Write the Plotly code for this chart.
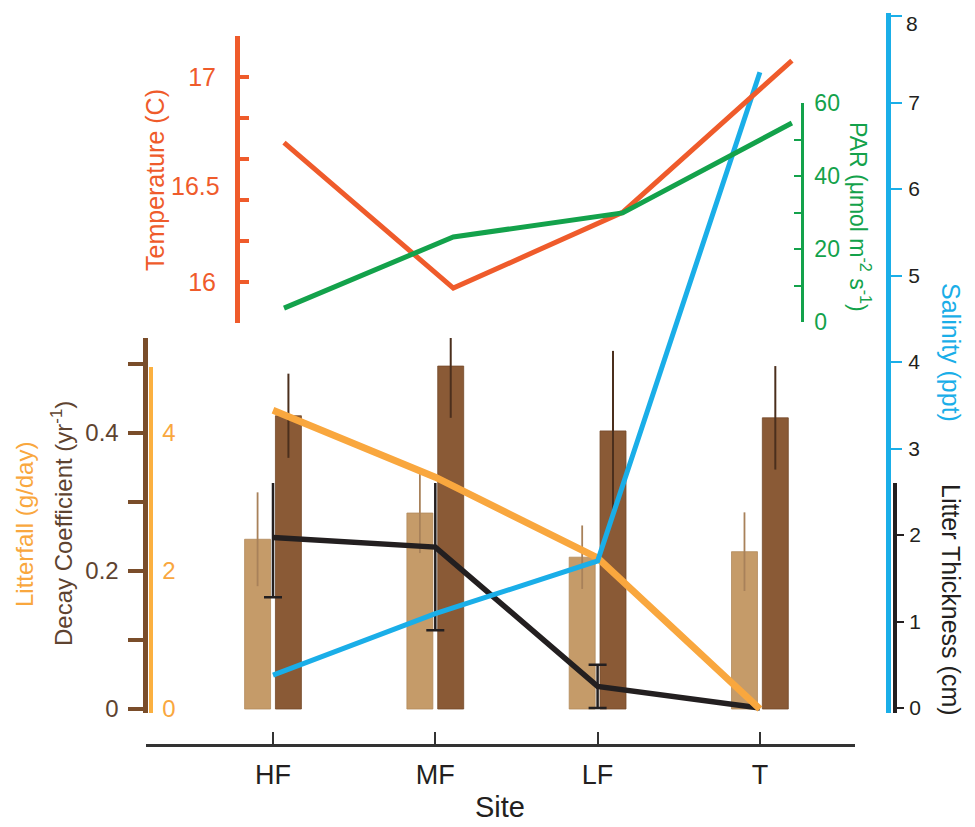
import plotly.graph_objects as go

W, H = 975, 827

# ---------------- data ----------------
sites = ["HF", "MF", "LF", "T"]
site_pos = [0, 1, 2, 3]

decay_dark = [0.425, 0.497, 0.403, 0.422]
decay_dark_err = [0.061, 0.075, 0.116, 0.075]
decay_light = [0.246, 0.284, 0.220, 0.228]
decay_light_err = [0.068, 0.058, 0.046, 0.057]

litterfall = [4.33, 3.36, 2.19, 0.0]
litter_thickness = [1.97, 1.86, 0.25, 0.0]
litter_thickness_err = [0.69, 0.96, 0.25]
salinity = [0.38, 1.09, 1.70, 7.35]
temperature = [16.68, 15.97, 16.34, 17.08]
par = [3.8, 23.3, 29.9, 54.5]

decay_ticks = [0, 0.1, 0.2, 0.3, 0.4, 0.5]
decay_ticktext = ["0", "", "0.2", "", "0.4", ""]
litterfall_ticks = [0, 2, 4]
temp_ticks = [15.8, 16.0, 16.2, 16.4, 16.6, 16.8, 17.0, 17.2]
temp_ticktext = ["", "16", "", "", "", "", "17", ""]
par_ticks = [0, 10, 20, 30, 40, 50, 60]
par_ticktext = ["0", "", "20", "", "40", "", "60"]
salinity_ticks = [3, 4, 5, 6, 7, 8]
salinity_ticktext = ["3", "4", "5", "6", "7", ""]   # "8" is set just below its tick
thickness_ticks = [0, 1, 2]

# ---------------- colours ----------------
C_RED = "#EF5B2B"
C_GREEN = "#13A24B"
C_BLUE = "#1AAEE8"
C_ORANGE = "#F9A73E"
C_BROWN_AX = "#7A4D2A"
C_BROWN_TXT = "#5E4330"
C_DARK_BAR = "#8A5A36"
C_LIGHT_BAR = "#C59B69"
C_BLACK = "#231F20"
FONT = "Liberation Sans, Arial, Helvetica, sans-serif"

# ---------------- layout helpers (screen pixel -> paper) ----------------
# the page body adds an 8px margin round the figure
OFF = 8.0


def px(xp):
    return (xp - OFF) / W


def pyy(yp):
    return 1 - (yp - OFF) / H


def ydom(top_px, bottom_px):
    return [pyy(bottom_px), pyy(top_px)]


def yrange(zero_px, per_unit, top_px, bottom_px, zero_val=0.0):
    return [zero_val - (bottom_px - zero_px) / per_unit,
            zero_val + (zero_px - top_px) / per_unit]


def xrange_(zero_px, per_unit, left_px, right_px):
    return [-(zero_px - left_px) / per_unit, (right_px - zero_px) / per_unit]


fig = go.Figure()

# bars (decay coefficient)
fig.add_trace(go.Bar(
    x=site_pos, y=decay_light, xaxis="x", yaxis="y",
    width=0.16, offset=-0.175,
    marker=dict(color=C_LIGHT_BAR, line=dict(color="#B38A5C", width=0.8)),
    error_y=dict(type="data", array=decay_light_err, color="#A8815A",
                 thickness=1.8, width=0),
    hoverinfo="skip", showlegend=False))
fig.add_trace(go.Bar(
    x=site_pos, y=decay_dark, xaxis="x", yaxis="y",
    width=0.16, offset=0.015,
    marker=dict(color=C_DARK_BAR, line=dict(color="#74492A", width=0.8)),
    error_y=dict(type="data", array=decay_dark_err, color="#4B2F1D",
                 thickness=2, width=0),
    hoverinfo="skip", showlegend=False))

# litter thickness (black)
fig.add_trace(go.Scatter(
    x=site_pos, y=litter_thickness, xaxis="x", yaxis="y2", mode="lines",
    line=dict(color=C_BLACK, width=5.5),
    error_y=dict(type="data", array=litter_thickness_err, color=C_BLACK,
                 thickness=2.5, width=9),
    hoverinfo="skip", showlegend=False))

# litterfall (orange)
fig.add_trace(go.Scatter(
    x=site_pos, y=litterfall, xaxis="x", yaxis="y3", mode="lines",
    line=dict(color=C_ORANGE, width=7), hoverinfo="skip", showlegend=False))

# salinity (blue)
fig.add_trace(go.Scatter(
    x=site_pos, y=salinity, xaxis="x", yaxis="y4", mode="lines",
    line=dict(color=C_BLUE, width=5), hoverinfo="skip", showlegend=False))

# temperature (red) and PAR (green)
fig.add_trace(go.Scatter(
    x=site_pos, y=temperature, xaxis="x2", yaxis="y5", mode="lines",
    line=dict(color=C_RED, width=5), hoverinfo="skip", showlegend=False))
fig.add_trace(go.Scatter(
    x=site_pos, y=par, xaxis="x2", yaxis="y6", mode="lines",
    line=dict(color=C_GREEN, width=5), hoverinfo="skip", showlegend=False))

common = dict(showgrid=False, zeroline=False, fixedrange=True,
              automargin=False, ticklabeloverflow="allow")

fig.update_layout(
    template="none",
    width=W, height=H, autosize=False,
    margin=dict(l=0, r=0, t=0, b=0, pad=0),
    paper_bgcolor="white", plot_bgcolor="rgba(0,0,0,0)",
    barmode="overlay",
    font=dict(family=FONT, color=C_BLACK),
    showlegend=False,
    xaxis=dict(
        **common, domain=[px(146), px(855)], anchor="free",
        position=pyy(745),
        range=xrange_(273, 162.3, 146, 855),
        tickmode="array", tickvals=site_pos, ticktext=sites,
        ticks="inside", ticklen=12, tickwidth=2, tickcolor="#333333",
        showline=True, linewidth=2.5, linecolor="#333333",
        tickfont=dict(size=27, color=C_BLACK), ticklabelstandoff=5),
    xaxis2=dict(
        **common, domain=[px(146), px(855)], anchor="free", position=0.99,
        range=xrange_(284, 169.3, 146, 855), visible=False),
    # decay coefficient (brown)
    yaxis=dict(
        **common, domain=ydom(338, 713), anchor="free", position=px(144.5),
        side="left", range=yrange(709, 690, 338, 713),
        tickmode="array", tickvals=decay_ticks, ticktext=decay_ticktext,
        ticks="outside", ticklen=15, tickwidth=4, tickcolor=C_BROWN_AX,
        showline=True, linewidth=5, linecolor=C_BROWN_AX,
        tickfont=dict(size=24, color=C_BROWN_TXT), ticklabelstandoff=4),
    # litter thickness (black)
    yaxis2=dict(
        **common, domain=ydom(483, 713), anchor="free", position=px(895),
        side="right", range=yrange(708, 86.5, 483, 713),
        tickmode="array", tickvals=thickness_ticks,
        ticks="outside", ticklen=7, tickwidth=1.5, tickcolor=C_BLACK,
        showline=True, linewidth=4, linecolor=C_BLACK,
        tickfont=dict(size=21, color=C_BLACK), ticklabelstandoff=1),
    # litterfall (orange)
    yaxis3=dict(
        **common, domain=ydom(367, 713), anchor="free", position=px(150.5),
        side="right", range=yrange(709, 69, 367, 713),
        tickmode="array", tickvals=litterfall_ticks,
        ticks="", showline=True, linewidth=4, linecolor="#FBB040",
        tickfont=dict(size=24, color=C_ORANGE), ticklabelstandoff=5),
    # salinity (blue)
    yaxis4=dict(
        **common, domain=ydom(13, 713), anchor="free", position=px(888),
        side="right", range=yrange(708, 86.5, 13, 713),
        tickmode="array", tickvals=salinity_ticks, ticktext=salinity_ticktext,
        ticks="outside", ticklen=11, tickwidth=1.5, tickcolor=C_BLUE,
        showline=True, linewidth=5, linecolor=C_BLUE,
        tickfont=dict(size=21, color=C_BLACK), ticklabelstandoff=2),
    # temperature (red)
    yaxis5=dict(
        **common, domain=ydom(36, 323), anchor="free", position=px(237),
        side="left", range=yrange(77, 205, 36, 323, zero_val=17.0),
        tickmode="array", tickvals=temp_ticks, ticktext=temp_ticktext,
        ticks="inside", ticklen=9, tickwidth=4, tickcolor=C_RED,
        showline=True, linewidth=5, linecolor=C_RED,
        tickfont=dict(size=25, color=C_RED), ticklabelstandoff=14),
    # PAR (green)
    yaxis6=dict(
        **common, domain=ydom(103, 322), anchor="free", position=px(802),
        side="right", range=[0, 60],
        tickmode="array", tickvals=par_ticks, ticktext=par_ticktext,
        ticks="inside", ticklen=7, tickwidth=2, tickcolor=C_GREEN,
        showline=True, linewidth=2.5, linecolor=C_GREEN,
        tickfont=dict(size=23, color=C_GREEN), ticklabelstandoff=6),
)


def ann(text, x_px, y_px, color, size, angle=0, xanchor="center"):
    fig.add_annotation(text=text, x=px(x_px), y=pyy(y_px),
                       xref="paper", yref="paper", showarrow=False,
                       textangle=angle, xanchor=xanchor, yanchor="middle",
                       font=dict(family=FONT, size=size, color=color))


ann("Temperature (C)", 155, 180, C_RED, 25, -90)
ann("PAR (μmol m<sup>-2</sup> s<sup>-1</sup>)", 860, 217, C_GREEN, 23, 90)
ann("Salinity (ppt)", 951, 352, C_BLUE, 25, 90)
ann("Litter Thickness (cm)", 951, 600, C_BLACK, 25, 90)
ann("Decay Coefficient (yr<sup>-1</sup>)", 62, 524, C_BROWN_TXT, 24, -90)
ann("Litterfall (g/day)", 24, 525, C_ORANGE, 24, -90)
ann("Site", 500, 807, C_BLACK, 29)
ann("8", 904, 23, C_BLACK, 21, xanchor="left")

# the 16.5 temperature label (no tick mark at that value)
fig.add_annotation(text="16.5", x=px(222), y=16.5, xref="paper", yref="y5",
                   showarrow=False, xanchor="right", yanchor="middle",
                   yshift=-6,
                   font=dict(family=FONT, size=25, color=C_RED))

fig.write_html("out.html")
